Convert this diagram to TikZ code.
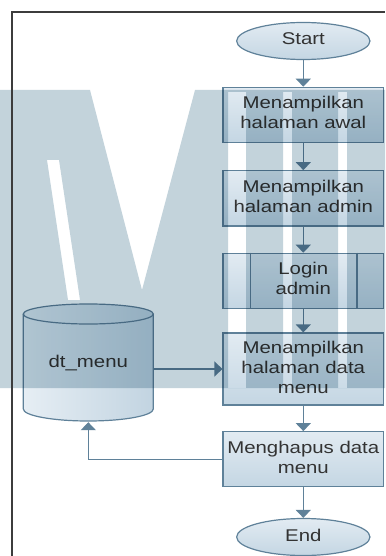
\documentclass[tikz,border=0pt]{standalone}
\usepackage{fontspec}
\setmainfont{Liberation Sans}
\usetikzlibrary{arrows.meta,shapes.geometric}
\definecolor{edge}{HTML}{5F8199}
\definecolor{boxtop}{HTML}{E2EBF2}
\definecolor{boxbot}{HTML}{C4D6E3}
\definecolor{ink}{HTML}{333333}
\definecolor{markc}{HTML}{C3D3DB}
\definecolor{framec}{HTML}{3C3C3C}
\definecolor{cylleft}{HTML}{E6EEF4}
\definecolor{cylright}{HTML}{C2D4E1}
% widened, centred multi-line label
\newcommand\wtext[1]{\scalebox{1.2}[1]{\begin{tabular}{@{}c@{}}#1\end{tabular}}}

\begin{document}
\begin{tikzpicture}[x=1pt,y=-1pt,
  every node/.style={font=\fontsize{17}{20}\selectfont, text=ink},
  procbox/.style={rectangle, draw=edge, line width=1.2pt, top color=boxtop,
    bottom color=boxbot, minimum width=160.6pt, inner sep=0pt},
  terminal/.style={ellipse, draw=edge, line width=1.2pt, top color=boxtop,
    bottom color=boxbot, minimum width=133.3pt, minimum height=37pt, inner sep=0pt},
  flow/.style={draw=edge, line width=1.2pt, -{Triangle[width=15pt,length=8pt]}},
  cylline/.style={draw=edge, line width=1.2pt},
  framel/.style={draw=framec, line width=1.5pt},
]
\useasboundingbox (0,0) rectangle (385,556);

% process column
\node[terminal] (start) at (303.3,41) {\wtext{Start}};
\node[procbox, minimum height=55.4pt] (awal) at (303.3,115) {\wtext{Menampilkan\\halaman awal}};
\node[procbox, minimum height=55.3pt] (admin) at (303.3,198.4) {\wtext{Menampilkan\\halaman admin}};
\node[procbox, minimum height=55pt] (login) at (303.3,280.8) {\wtext{Login\\admin}};
\node[procbox, minimum height=72pt] (data) at (303.3,369) {\wtext{Menampilkan\\halaman data\\menu}};
\node[procbox, minimum height=55pt] (hapus) at (303.3,459.2) {\wtext{Menghapus data\\menu}};
\node[terminal] (end) at (303.3,537) {\wtext{End}};

% inner bars of the predefined process
\draw[cylline] ([xshift=28pt]login.north west) -- ([xshift=28pt]login.south west);
\draw[cylline] ([xshift=-27.3pt]login.north east) -- ([xshift=-27.3pt]login.south east);

% data store (cylinder)
\node[rectangle, minimum width=130pt, minimum height=118pt, inner sep=0pt] (dt) at (88.3,363) {};
\path[left color=cylleft, right color=cylright]
  (23.3,314) -- (23.3,409)
  .. controls (23.3,415.6) and (52.4,421) .. (88.3,421)
  .. controls (124.2,421) and (153.3,415.6) .. (153.3,409)
  -- (153.3,314) -- cycle;
\path[left color=cylleft, right color=cylright] (88.3,314) ellipse [x radius=65pt, y radius=10pt];
\draw[cylline] (23.3,314) -- (23.3,409)
  .. controls (23.3,415.6) and (52.4,421) .. (88.3,421)
  .. controls (124.2,421) and (153.3,415.6) .. (153.3,409)
  -- (153.3,314);
\draw[cylline] (88.3,314) ellipse [x radius=65pt, y radius=10pt];
\node at (dt.center) {\raisebox{-6pt}{\scalebox{1.2}[1]{dt\_menu}}};

% connectors
\draw[flow] (start) -- (awal);
\draw[flow] (awal) -- (admin);
\draw[flow] (admin) -- (login);
\draw[flow] (login) -- (data);
\draw[flow] (data) -- (hapus);
\draw[flow] (hapus) -- (end);
\draw[flow] (dt.east |- data) -- (data);
\draw[flow] (hapus) -| (dt);

% background watermark
\begin{scope}[blend mode=multiply]
\fill[markc, even odd rule]
  (0,90) -- (90,90) -- (142,290) -- (195,90) -- (385,90) -- (385,388) -- (0,388) -- cycle
  (47,160) -- (59,160) -- (80,300) -- (68,300) -- cycle
  (228,92) rectangle (246,388)
  (283,92) rectangle (292,388)
  (338,92) rectangle (347,388);
\end{scope}

% page frame
\draw[framel] (12,556) -- (12,12) -- (385,12);
\end{tikzpicture}
\end{document}
